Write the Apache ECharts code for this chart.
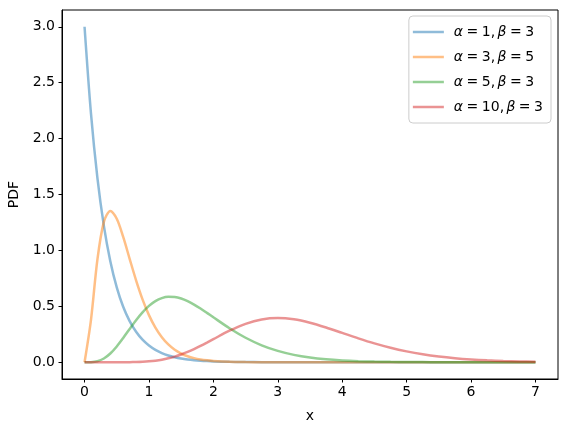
<!DOCTYPE html>
<html>
<head>
<meta charset="utf-8">
<script src="https://cdn.jsdelivr.net/npm/echarts@6/dist/echarts.min.js"></script>
<style>
  html, body { margin: 0; padding: 0; background: #fff; }
  #chart { width: 567px; height: 432px; }
</style>
</head>
<body>
<div id="chart"></div>
<script>
// x positions where the curves were read
const xs = [0, 0.1, 0.2, 0.3, 0.4, 0.5, 0.6, 0.7, 0.8, 0.9, 1.0, 1.1, 1.2, 1.3, 1.4, 1.5, 1.6, 1.7, 1.8, 1.9, 2.0,
  2.25, 2.5, 2.75, 3.0, 3.25, 3.5, 3.75, 4.0, 4.25, 4.5, 4.75, 5.0, 5.25, 5.5, 5.75, 6.0, 6.25, 6.5, 6.75, 7.0]

// PDF values per curve
const pdfA1B3 = [3.0, 2.2225, 1.6464, 1.2197, 0.9036, 0.6694, 0.4959, 0.3674, 0.2722, 0.2016, 0.1494, 0.1106, 0.0820, 0.0607, 0.0450, 0.0333, 0.0247, 0.0183, 0.0135, 0.0100, 0.0074,
  0.0035, 0.0017, 0.0008, 0.0004, 0.0002, 0.0001, 0, 0, 0, 0, 0, 0, 0, 0, 0, 0, 0, 0, 0, 0]
const pdfA3B5 = [0, 0.3791, 0.9197, 1.2551, 1.3534, 1.2826, 1.1202, 0.9248, 0.7326, 0.5624, 0.4211, 0.3091, 0.2231, 0.1588, 0.1117, 0.0778, 0.0537, 0.0368, 0.0250, 0.0169, 0.0114,
  0.0041, 0.0015, 0.0005, 0.0002, 0.0001, 0, 0, 0, 0, 0, 0, 0, 0, 0, 0, 0, 0, 0, 0, 0]
const pdfA5B3 = [0, 0.0008, 0.0089, 0.0333, 0.0781, 0.1412, 0.2169, 0.2977, 0.3762, 0.4465, 0.5041, 0.5468, 0.5737, 0.5854, 0.5833, 0.5694, 0.5461, 0.5156, 0.4801, 0.4415, 0.4016,
  0.3038, 0.2188, 0.1513, 0.1012, 0.0659, 0.0418, 0.0260, 0.0159, 0.0096, 0.0057, 0.0033, 0.0019, 0.0011, 0.0006, 0.0004, 0.0002, 0.0001, 0, 0, 0]
const pdfA10B3 = [0, 0, 0, 0, 0.00001, 0.0001, 0.0003, 0.0008, 0.0020, 0.0042, 0.0081, 0.0142, 0.0229, 0.0349, 0.0504, 0.0695, 0.0920, 0.1176, 0.1458, 0.1757, 0.2065,
  0.2816, 0.3433, 0.3824, 0.3953, 0.3837, 0.3532, 0.3104, 0.2621, 0.2137, 0.1688, 0.1297, 0.0972, 0.0712, 0.0512, 0.0361, 0.0250, 0.0170, 0.0115, 0.0076, 0.0050]

const seriesNames = ['a1b3', 'a3b5', 'a5b3', 'a10b3']
const sp = '\u2005'
const th = '\u2006'
const legendLabels = [
  `{i|α}${sp}=${sp}1,${th}{i|β}${sp}=${sp}3`,
  `{i|α}${sp}=${sp}3,${th}{i|β}${sp}=${sp}5`,
  `{i|α}${sp}=${sp}5,${th}{i|β}${sp}=${sp}3`,
  `{i|α}${sp}=${sp}10,${th}{i|β}${sp}=${sp}3`
]
const seriesValues = [pdfA1B3, pdfA3B5, pdfA5B3, pdfA10B3]
const colors = ['rgba(31,119,180,0.5)', 'rgba(255,127,14,0.5)', 'rgba(44,160,44,0.5)', 'rgba(214,39,40,0.5)']

const xTicks = [0, 1, 2, 3, 4, 5, 6, 7]
const yTicks = [0, 0.5, 1.0, 1.5, 2.0, 2.5, 3.0]

const font = 'DejaVu Sans'
const chart = echarts.init(document.getElementById('chart'), null, { renderer: 'canvas' })

chart.setOption({
  animation: false,
  textStyle: { fontFamily: font },
  grid: {
    left: 62, top: 10, width: 496, height: 369,
    outerBoundsMode: 'none', containLabel: false,
    show: true, borderColor: '#000', borderWidth: 1
  },
  legend: {
    orient: 'vertical',
    right: 16, top: 16,
    padding: [8, 8, 8, 4],
    itemWidth: 31, itemHeight: 2.5, itemGap: 9,
    icon: 'rect',
    backgroundColor: 'rgba(255,255,255,0.8)',
    borderColor: '#cccccc', borderWidth: 1, borderRadius: 4,
    data: seriesNames,
    formatter: name => legendLabels[seriesNames.indexOf(name)],
    textStyle: {
      fontFamily: font, fontSize: 14, color: '#000', lineHeight: 16,
      padding: [0, 0, 0, 5],
      rich: { i: { fontStyle: 'italic', fontFamily: font, fontSize: 14 } }
    }
  },
  xAxis: {
    type: 'value', min: -0.35, max: 7.35,
    name: 'x', nameLocation: 'middle', nameGap: 30,
    nameTextStyle: { fontSize: 14, color: '#000', fontFamily: font },
    axisLine: { show: true, onZero: false, lineStyle: { color: '#000', width: 1 } },
    axisTick: { show: true, inside: false, length: 3.5, customValues: xTicks, lineStyle: { color: '#000' } },
    axisLabel: { customValues: xTicks, margin: 6, fontSize: 14, color: '#000', formatter: v => String(v) },
    splitLine: { show: false }
  },
  yAxis: {
    type: 'value', min: -0.15, max: 3.15,
    name: 'PDF', nameLocation: 'middle', nameGap: 39,
    nameTextStyle: { fontSize: 14, color: '#000', fontFamily: font },
    axisLine: { show: true, onZero: false, lineStyle: { color: '#000', width: 1 } },
    axisTick: { show: true, inside: false, length: 3.5, customValues: yTicks, lineStyle: { color: '#000' } },
    axisLabel: { customValues: yTicks, margin: 7, fontSize: 14, color: '#000', formatter: v => v.toFixed(1) },
    splitLine: { show: false }
  },
  series: seriesNames.map((name, k) => ({
    name,
    type: 'line',
    data: xs.map((x, i) => [x, seriesValues[k][i]]),
    showSymbol: false,
    symbol: 'none',
    smooth: 0.3,
    itemStyle: { color: colors[k] },
    lineStyle: { width: 2.5, color: colors[k] }
  }))
})
</script>
</body>
</html>
